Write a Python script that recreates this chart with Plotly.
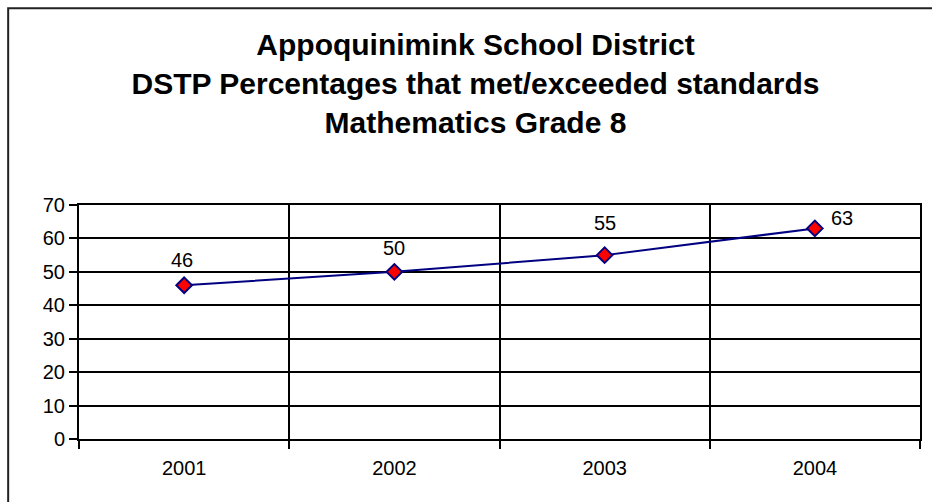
import plotly.graph_objects as go

years = ["2001", "2002", "2003", "2004"]
values = [46, 50, 55, 63]
y_ticks = [0, 10, 20, 30, 40, 50, 60, 70]

# label offsets (pixels) for data labels: style only
label_dx = [-2, 0, 0, 27]
label_dy = [25, 24, 32, 10]

FONT = "Liberation Sans, Arial, sans-serif"

fig = go.Figure()
fig.add_trace(go.Scatter(
    x=years, y=values, mode="lines+markers",
    line=dict(color="#000080", width=2),
    marker=dict(symbol="diamond", size=12, color="#ff0000",
                line=dict(color="#000080", width=2)),
    showlegend=False, hoverinfo="skip",
))

for i, v in enumerate(values):
    fig.add_annotation(x=i, y=v, text=str(v), showarrow=False,
                       xshift=label_dx[i], yshift=label_dy[i],
                       font=dict(family=FONT, size=20, color="black"))

fig.update_layout(
    width=932, height=502,
    margin=dict(l=79, r=10, t=205, b=63),
    paper_bgcolor="white", plot_bgcolor="white",
    font=dict(family=FONT, size=19, color="black"),
    title=dict(
        text="<b>Appoquinimink School District<br>DSTP Percentages that met/exceeded standards<br>Mathematics Grade 8</b>",
        x=475.5 / 932, xanchor="center", xref="container",
        y=1 - 55 / 502, yanchor="top", yref="container",
        font=dict(family=FONT, size=30, color="black"),
    ),
    xaxis=dict(
        type="category", range=[-0.5, 3.5], tickson="boundaries",
        showgrid=True, gridcolor="black", gridwidth=2,
        showline=True, linecolor="black", linewidth=2, mirror=True,
        ticks="outside", ticklen=8, tickwidth=2, tickcolor="black",
        ticklabelstandoff=10,
        tickfont=dict(family=FONT, size=20, color="black"),
        zeroline=False, fixedrange=True,
    ),
    yaxis=dict(
        range=[0, 70], tickvals=y_ticks,
        showgrid=True, gridcolor="black", gridwidth=2,
        showline=True, linecolor="black", linewidth=2, mirror=True,
        ticks="outside", ticklen=8, tickwidth=2, tickcolor="black",
        tickfont=dict(family=FONT, size=20, color="black"),
        zeroline=False, fixedrange=True,
    ),
    shapes=[dict(type="rect", xref="paper", yref="paper",
                 x0=(8 - 79) / 843, x1=1.3,
                 y0=-0.6, y1=(438.7 - 8.5) / 233.7,
                 line=dict(color="#222222", width=2), fillcolor="rgba(0,0,0,0)",
                 layer="below")],
)

fig.write_html("out.html")
